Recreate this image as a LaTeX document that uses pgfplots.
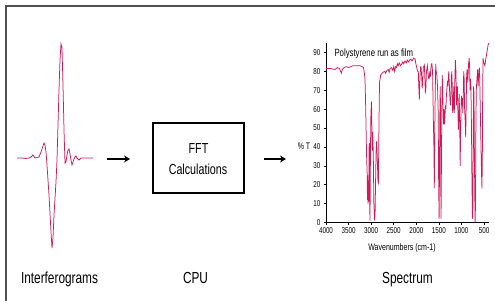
\documentclass[border=0pt]{standalone}
\usepackage{fontspec}
\setmainfont{Liberation Sans}[FakeStretch=0.74]
\usepackage{pgfplots}
\pgfplotsset{compat=1.18}
\usetikzlibrary{arrows.meta}
\definecolor{spec}{RGB}{210,25,88}
\definecolor{framegray}{RGB}{80,80,80}
\begin{document}
\begin{tikzpicture}
\useasboundingbox (0pt,0pt) rectangle (495pt,300pt);
% frame
\draw[framegray, line width=1.4pt] (6pt,-2pt) -- (6pt,294pt) -- (497pt,294pt);
% spectrum axis
\begin{axis}[
  at={(326pt,77.5pt)}, anchor=south west,
  scale only axis, width=163pt, height=179.5pt,
  xmin=390, xmax=4000, x dir=reverse,
  ymin=0, ymax=95,
  axis x line*=bottom, axis y line*=left,
  axis line style={-, line width=0.6pt},
  xtick={4000,3500,3000,2500,2000,1500,1000,500},
  ytick={0,10,20,30,40,50,60,70,80,90},
  tick align=outside, major tick length=2pt,
  tick style={line width=0.5pt, black},
  /pgf/number format/assume math mode=true,
  /pgf/number format/1000 sep={},
  tick label style={font=\fontsize{8.5}{9}\selectfont},
  xticklabel style={yshift=0pt},
  clip=false,
]
\addplot[spec, line width=0.75pt] coordinates {
(4000,81.5)(3900,81.5)(3800,81)(3750,82)(3700,81.5)(3660,79)(3640,81)(3600,82)
(3550,82.5)(3500,82)(3450,82.5)(3400,83)(3350,83)(3300,83)(3250,83)(3200,82.5)
(3170,82)(3150,79)(3136,76)(3120,60)(3105,40)(3098,32)(3090,28)(3082,12)(3075,25)
(3068,10)(3060,20)(3054,11)(3045,40)(3038,42)(3030,6)(3025,1)(3018,28)(3008,55)
(2995,64)(2988,60)(2978,38)(2965,48)(2953,37)(2940,10)(2922,1)(2912,6)(2900,25)
(2890,38)(2878,43)(2865,35)(2850,22)(2840,21)(2828,50)(2815,74)(2790,78)(2740,79.5)
(2700,80)(2680,79)(2650,80.5)(2620,81)(2600,79.5)(2580,81.5)(2550,82)(2520,80.5)
(2500,82.5)(2480,80)(2460,82.5)(2440,82)(2420,84)(2400,83)(2380,84.5)(2350,83)
(2320,84)(2300,85)(2280,84)(2250,85.5)(2220,84.5)(2200,86)(2170,85)(2150,86)
(2120,86.5)(2100,85.5)(2080,86)(2060,87)(2040,86.5)(2028,86.6)(2010,84)(1990,82)
(1970,80)(1955,79.8)(1945,72)(1933,65)(1920,76)(1905,82.5)(1896,82.5)(1880,77)
(1870,71)(1860,74)(1845,82)(1822,83.4)(1810,76)(1800,69)(1790,70)(1775,80)
(1755,83)(1740,79)(1725,76)(1718,76)(1700,80)(1690,77)(1680,81)(1665,84)(1655,84)
(1640,80)(1623,55)(1610,40)(1601,18)(1595,35)(1588,56)(1580,70)(1570,84)(1560,80)
(1545,78)(1530,72)(1515,58)(1505,20)(1495,2)(1488,22)(1480,55)(1470,72)(1463,58)
(1458,20)(1452,2)(1445,25)(1435,60)(1425,78)(1415,70)(1405,58)(1395,52)(1385,60)
(1375,52)(1365,56)(1355,62)(1345,60)(1335,66)(1325,70)(1310,75)(1300,72)(1290,77)
(1280,80)(1270,74)(1260,68)(1245,62)(1235,66)(1225,75)(1215,80)(1205,73)(1195,58)
(1185,60)(1170,72)(1158,58)(1148,74)(1135,86)(1122,80)(1110,62)(1100,70)(1090,72)
(1080,60)(1069,49)(1060,55)(1050,68)(1040,55)(1028,30)(1020,45)(1010,58)(1000,67)
(990,62)(980,66)(970,58)(960,68)(950,80)(940,76)(930,60)(920,55)(906,45)(895,62)
(885,78)(875,81)(860,74)(850,80)(842,84)(830,87)(820,83)(810,70)(800,76)(790,72)
(778,50)(768,22)(757,2)(748,4)(740,40)(732,72)(722,68)(712,32)(698,0)(690,8)
(682,45)(672,70)(662,74)(652,78)(642,81)(632,72)(622,76)(612,80)(602,82)(592,72)
(575,50)(558,28)(546,18)(538,32)(530,70)(522,87)(510,85)(495,84)(480,83)(465,86)
(450,88)(430,91)(410,94)(392,95)
};
\end{axis}
% overlay axis in pixel coordinates (y measured from bottom)
\begin{axis}[
  at={(0pt,0pt)}, anchor=south west,
  scale only axis, width=495pt, height=300pt,
  xmin=0, xmax=495, ymin=0, ymax=300,
  hide axis, clip=false,
]
\addplot[spec, line width=0.75pt] coordinates {
(17,142)(22,142)(26,141.5)(29,142)(31,143)(33,145)(35,142)(37,142.5)(39,143)
(41,148)(43,154)(44,157)(45,155)(46,148)(47,135)(49,105)(51,68)(52,52)(53,62)
(54,85)(56,118)(57,140)(58,175)(59,210)(60,240)(61,256)(62,252)(63,215)(64,170)
(65,137)(66,138)(67,145)(68,150)(69,151)(70,146)(71,140)(72,135)(73,138)(74,141)
(75,143)(76,144)(77,142)(79,140)(81,142)(86,142)(93,142)
};
\end{axis}
% arrows and box
\draw[line width=1.7pt, -{Stealth[length=6pt,width=7pt]}] (107pt,141pt) -- (130pt,141pt);
\draw[line width=1.7pt, -{Stealth[length=6pt,width=7pt]}] (264pt,141pt) -- (286pt,141pt);
\draw[line width=1.4pt] (153pt,107pt) rectangle (244pt,177pt);
\node[anchor=base, font=\fontsize{14.5}{15}\selectfont] at (198.5pt,146pt) {FFT};
\node[anchor=base, font=\fontsize{14.5}{15}\selectfont] at (198pt,125pt) {Calculations};
% bottom labels
\node[anchor=base, font=\fontsize{16}{17}\selectfont] at (59.5pt,16.5pt) {Interferograms};
\node[anchor=base, font=\fontsize{16}{17}\selectfont] at (195.5pt,16.5pt) {CPU};
\node[anchor=base, font=\fontsize{16}{17}\selectfont] at (407.5pt,16.5pt) {Spectrum};
% spectrum texts
\node[anchor=base west, font=\fontsize{10.5}{11}\selectfont] at (331pt,243pt) {Polystyrene run as film};
\node[anchor=center, font=\fontsize{9.5}{10}\selectfont] at (304pt,154pt) {\%\,T};
\node[anchor=base, font=\fontsize{9.5}{10}\selectfont] at (402pt,50pt) {Wavenumbers (cm-1)};
\end{tikzpicture}
\end{document}
